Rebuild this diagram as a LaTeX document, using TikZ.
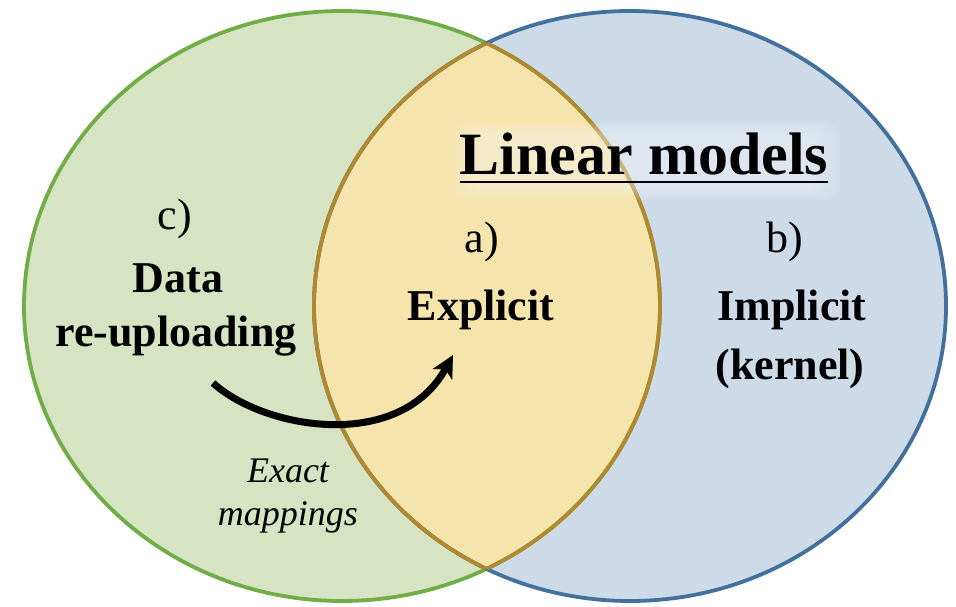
\documentclass[tikz,border=0pt]{standalone}
\usepackage{fontspec}
\setmainfont{Liberation Serif}
\usetikzlibrary{arrows.meta}
\definecolor{grfill}{RGB}{214,228,196}
\definecolor{grline}{RGB}{112,173,71}
\definecolor{blfill}{RGB}{205,219,233}
\definecolor{blline}{RGB}{65,113,156}
\definecolor{lnfill}{RGB}{245,228,172}
\definecolor{lnline}{RGB}{178,136,46}
\tikzset{
  lbl/.style={inner sep=0pt, anchor=base, text=black},
  bigbold/.style={lbl, font=\fontsize{44}{50}\selectfont\bfseries},
  tag/.style={lbl, font=\fontsize{44}{50}\selectfont},
  note/.style={lbl, font=\fontsize{36}{42}\selectfont\itshape},
  rim/.style={line width=3.8pt},
}
\begin{document}
\begin{tikzpicture}[x=1pt,y=-1pt]
\useasboundingbox (0,0) rectangle (956,607);
\def\leftset{(342,306) ellipse [x radius=318, y radius=295]}
\def\rightset{(630,306) ellipse [x radius=316, y radius=295]}
% set fills
\fill[grfill] \leftset;
\fill[blfill] \rightset;
\begin{scope}
  \clip \leftset;
  \fill[lnfill] \rightset;
\end{scope}
% outlines
\draw[rim, grline] \leftset;
\draw[rim, blline] \rightset;
\begin{scope}
  \clip \rightset;
  \draw[rim, lnline] \leftset;
\end{scope}
\begin{scope}
  \clip \leftset;
  \draw[rim, lnline] \rightset;
\end{scope}
% soft halo behind the title
\foreach \g in {0,4,...,24}{
  \fill[white, opacity=0.07, rounded corners=14pt] (450+\g,122+\g/2) rectangle (840-\g,200-\g/2);
}
% title
\node[lbl, font=\fontsize{60}{70}\selectfont\bfseries] (title) at (644,175) {Linear models};
\draw[line width=2.6pt] ([yshift=-7pt]title.base west) -- ([yshift=-7pt]title.base east);
% labels
\node[tag] (tc) at (175,229) {c)};
\node[tag] (ta) at (482,252) {a)};
\node[tag] (tb) at (785,252) {b)};
\node[bigbold] (data) at (178,292) {Data};
\node[bigbold] (reup) at (176,346) {re-uploading};
\node[bigbold] (expl) at (481,320) {Explicit};
\node[bigbold] (impl) at (792,320) {Implicit};
\node[bigbold] (kern) at (790,379) {(kernel)};
\node[note] (exact) at (288,482) {Exact};
\node[note] (mapp) at (288,525) {mappings};
% mapping arrow
\coordinate (arrS) at (213,383);
\coordinate (arrE) at (453,355);
\draw[line width=7pt, -{Stealth[length=22pt, width=22pt, inset=6pt]}]
  (arrS) .. controls (265,430) and (400,452) .. (arrE);
\end{tikzpicture}
\end{document}
